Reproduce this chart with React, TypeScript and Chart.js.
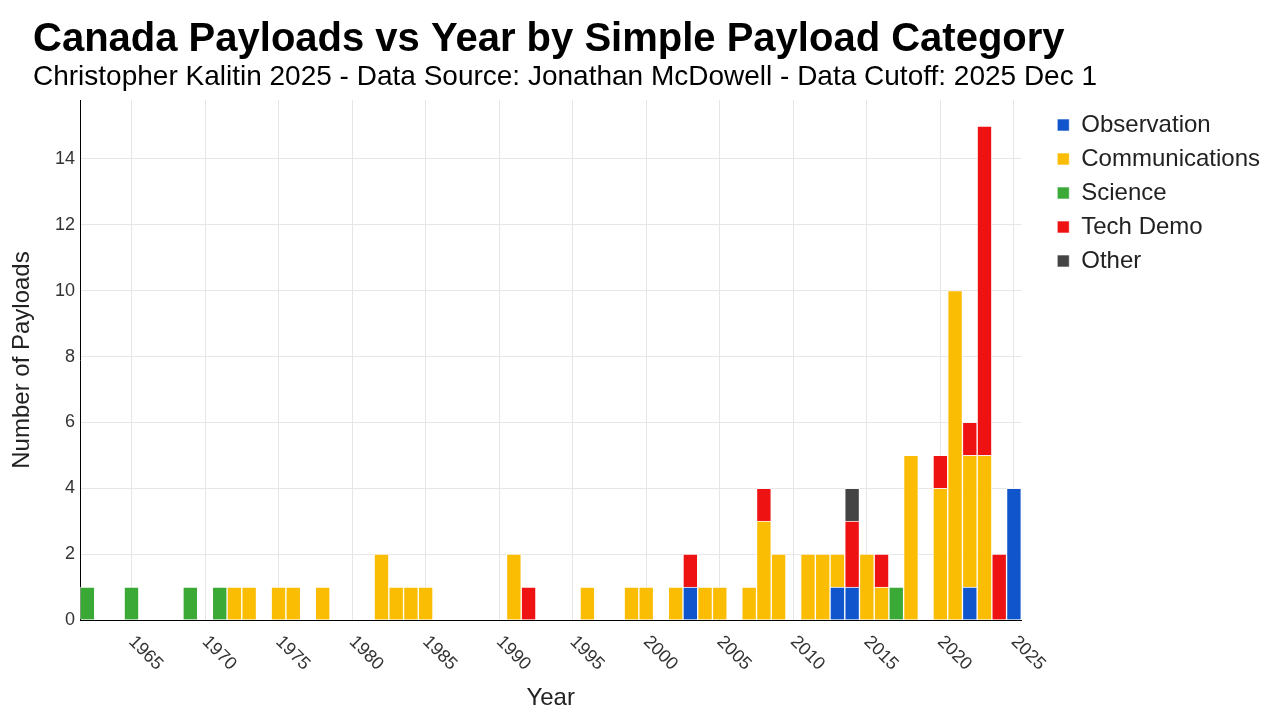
import React, { useEffect, useRef } from 'react';
import { Chart, registerables } from 'chart.js';

Chart.register(...registerables);

// years 1962..2025, one bar per year
const years: string[] = [];
for (let y = 1962; y <= 2025; y++) years.push(String(y));

// payload counts per year (1962-69, 1970s, 1980s, 1990s, 2000s, 2010s, 2020-25)
const observation = [
  0, 0, 0, 0, 0, 0, 0, 0,
  0, 0, 0, 0, 0, 0, 0, 0, 0, 0,
  0, 0, 0, 0, 0, 0, 0, 0, 0, 0,
  0, 0, 0, 0, 0, 0, 0, 0, 0, 0,
  0, 0, 0, 1, 0, 0, 0, 0, 0, 0,
  0, 0, 0, 1, 1, 0, 0, 0, 0, 0,
  0, 0, 1, 0, 0, 4,
];
const communications = [
  0, 0, 0, 0, 0, 0, 0, 0,
  0, 0, 1, 1, 0, 1, 1, 0, 1, 0,
  0, 0, 2, 1, 1, 1, 0, 0, 0, 0,
  0, 2, 0, 0, 0, 0, 1, 0, 0, 1,
  1, 0, 1, 0, 1, 1, 0, 1, 3, 2,
  0, 2, 2, 1, 0, 2, 1, 0, 5, 0,
  4, 10, 4, 5, 0, 0,
];
const science = [
  1, 0, 0, 1, 0, 0, 0, 1,
  0, 1, 0, 0, 0, 0, 0, 0, 0, 0,
  0, 0, 0, 0, 0, 0, 0, 0, 0, 0,
  0, 0, 0, 0, 0, 0, 0, 0, 0, 0,
  0, 0, 0, 0, 0, 0, 0, 0, 0, 0,
  0, 0, 0, 0, 0, 0, 0, 1, 0, 0,
  0, 0, 0, 0, 0, 0,
];
const techDemo = [
  0, 0, 0, 0, 0, 0, 0, 0,
  0, 0, 0, 0, 0, 0, 0, 0, 0, 0,
  0, 0, 0, 0, 0, 0, 0, 0, 0, 0,
  0, 0, 1, 0, 0, 0, 0, 0, 0, 0,
  0, 0, 0, 1, 0, 0, 0, 0, 1, 0,
  0, 0, 0, 0, 2, 0, 1, 0, 0, 0,
  1, 0, 1, 10, 2, 0,
];
const other = [
  0, 0, 0, 0, 0, 0, 0, 0,
  0, 0, 0, 0, 0, 0, 0, 0, 0, 0,
  0, 0, 0, 0, 0, 0, 0, 0, 0, 0,
  0, 0, 0, 0, 0, 0, 0, 0, 0, 0,
  0, 0, 0, 0, 0, 0, 0, 0, 0, 0,
  0, 0, 0, 0, 1, 0, 0, 0, 0, 0,
  0, 0, 0, 0, 0, 0,
];

const seriesNames = ['Observation', 'Communications', 'Science', 'Tech Demo', 'Other'];
const seriesColors = ['#1155cc', '#fbbc04', '#3ba936', '#ee1212', '#444444'];
const seriesValues = [observation, communications, science, techDemo, other];

const yTicks = [0, 2, 4, 6, 8, 10, 12, 14];

const TITLE = 'Canada Payloads vs Year by Simple Payload Category';
const SUBTITLE = 'Christopher Kalitin 2025 - Data Source: Jonathan McDowell - Data Cutoff: 2025 Dec 1';

const FONT = "'Liberation Sans', Arial, sans-serif";
const GRID = '#e6e6e6';

// heading text in the top-left corner
const headingPlugin = {
  id: 'heading',
  beforeDraw(chart: Chart) {
    const ctx = chart.ctx;
    ctx.save();
    ctx.fillStyle = '#000';
    ctx.textAlign = 'left';
    ctx.textBaseline = 'alphabetic';
    ctx.font = `bold 40px ${FONT}`;
    ctx.fillText(TITLE, 33, 51);
    ctx.font = `28px ${FONT}`;
    ctx.fillText(SUBTITLE, 33, 85);
    ctx.restore();
  },
};

// year labels, slanted downwards to the right
const yearLabelsPlugin = {
  id: 'yearLabels',
  afterDraw(chart: Chart) {
    const ctx = chart.ctx;
    const xs = chart.scales.x;
    ctx.save();
    ctx.fillStyle = '#333';
    ctx.font = `18px ${FONT}`;
    ctx.textAlign = 'left';
    ctx.textBaseline = 'middle';
    years.forEach((label, i) => {
      if (Number(label) % 5 !== 0) return;
      const x = xs.getPixelForTick(i);
      ctx.save();
      ctx.translate(x, xs.top + 19);
      ctx.rotate(Math.PI / 4);
      ctx.fillText(label, 0, 0);
      ctx.restore();
    });
    ctx.restore();
  },
};

const App: React.FC = () => {
  const canvasRef = useRef<HTMLCanvasElement | null>(null);
  const chartRef = useRef<Chart | null>(null);

  useEffect(() => {
    if (chartRef.current) chartRef.current.destroy();
    const ctx = canvasRef.current?.getContext('2d');
    if (!ctx) return;

    Chart.defaults.font.family = FONT;

    chartRef.current = new Chart(ctx, {
      type: 'bar',
      data: {
        labels: years,
        datasets: seriesNames.map((name, i) => ({
          label: name,
          data: seriesValues[i].map((v) => (v ? v : null)),
          backgroundColor: seriesColors[i],
          borderColor: 'rgba(255, 255, 255, 0.6)',
          borderWidth: 1,
          barPercentage: 1,
          categoryPercentage: 1,
        })),
      },
      options: {
        animation: false,
        responsive: true,
        maintainAspectRatio: false,
        layout: { padding: { top: 100, left: 0, right: 10, bottom: 0 } },
        plugins: {
          title: { display: false },
          tooltip: { enabled: false },
          legend: {
            position: 'right',
            align: 'start',
            maxWidth: 300,
            title: { display: true, text: ' ', font: { size: 1, lineHeight: 1 }, padding: { top: 2, bottom: 0 } },
            labels: {
              boxWidth: 12,
              boxHeight: 12,
              padding: 10,
              color: '#222',
              font: { size: 24, family: FONT },
            },
          },
        },
        scales: {
          x: {
            type: 'category',
            stacked: true,
            offset: true,
            grid: {
              offset: false,
              drawTicks: false,
              color: (c: any) => (Number(years[c.index]) % 5 === 0 ? GRID : 'rgba(0,0,0,0)'),
            },
            border: { color: '#000', width: 1 },
            ticks: { display: false },
            title: {
              display: true,
              text: 'Year',
              color: '#222',
              font: { size: 24, family: FONT },
              padding: { top: 0, bottom: 7 },
            },
            afterFit: (s: any) => {
              s.height = 100;
            },
          },
          y: {
            stacked: true,
            min: 0,
            max: 15.79,
            grid: { color: GRID, drawTicks: false },
            border: { color: '#000', width: 1 },
            ticks: {
              stepSize: 2,
              padding: 5,
              color: '#333',
              font: { size: 18, family: FONT },
            },
            afterBuildTicks: (s: any) => {
              s.ticks = yTicks.map((v) => ({ value: v }));
            },
            title: {
              display: true,
              text: 'Number of Payloads',
              color: '#222',
              font: { size: 24, family: FONT },
              padding: { top: 8, bottom: 0 },
            },
            afterFit: (s: any) => {
              s.width = 80;
            },
          },
          gap: {
            type: 'linear',
            position: 'right',
            display: true,
            grid: { display: false },
            border: { display: false },
            ticks: { display: false },
            afterFit: (s: any) => {
              s.width = 26;
            },
          },
        },
      },
      plugins: [headingPlugin, yearLabelsPlugin],
    });

    return () => {
      if (chartRef.current) {
        chartRef.current.destroy();
        chartRef.current = null;
      }
    };
  }, []);

  return (
    <div style={{ position: 'fixed', left: 0, top: 0, width: 1280, height: 720, background: '#fff' }}>
      <canvas ref={canvasRef} />
    </div>
  );
};

export default App;
